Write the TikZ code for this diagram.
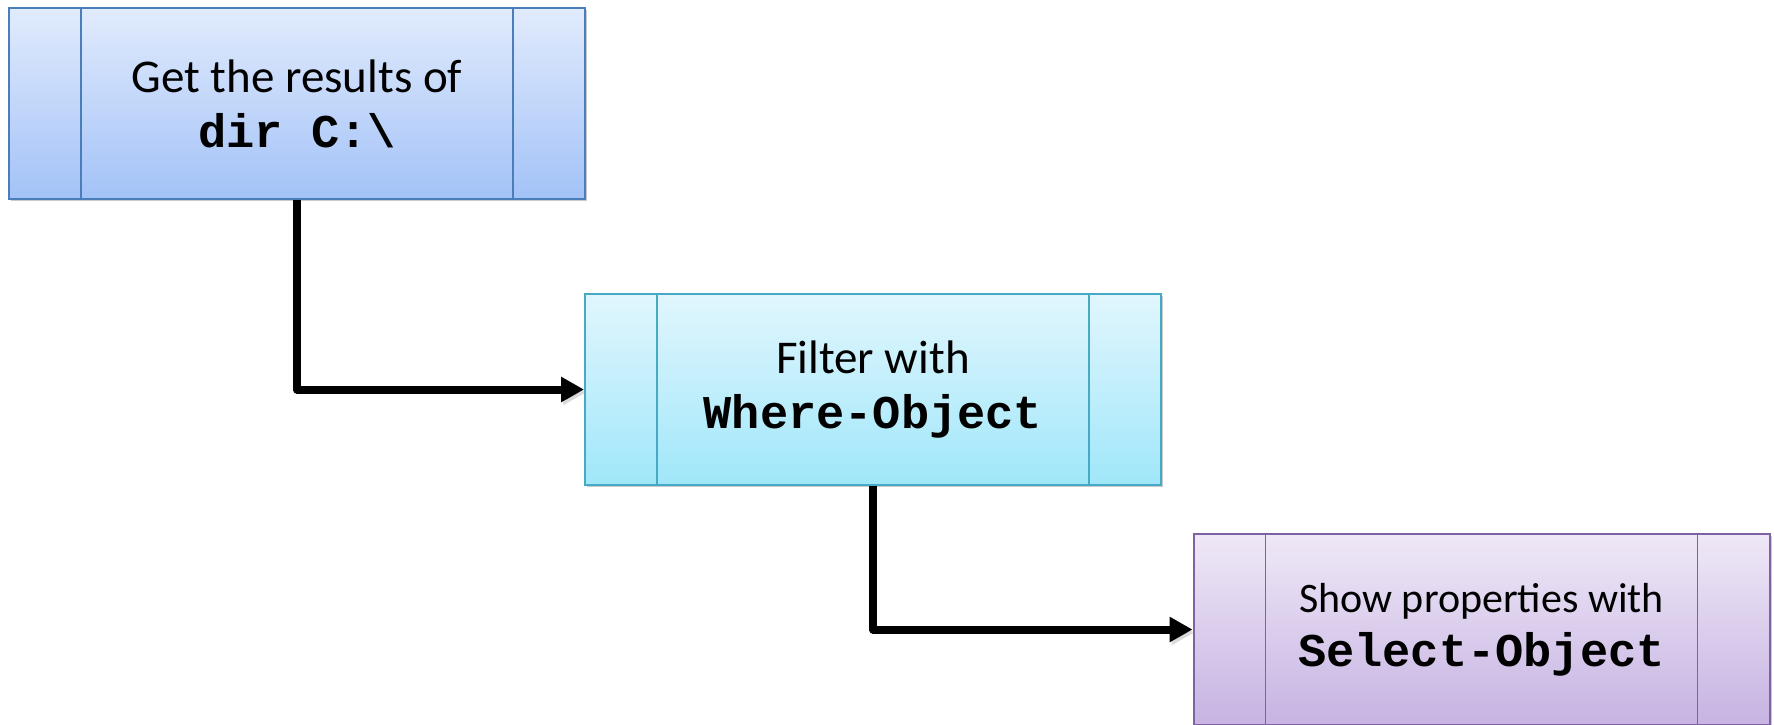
\documentclass[tikz,border=0pt]{standalone}
\usepackage{fontspec}
\setmainfont{Carlito}
\newfontfamily\codefont{Liberation Mono}
\usetikzlibrary{arrows.meta,shadows}
\definecolor{bAtop}{HTML}{E1EBFD}
\definecolor{bAbot}{HTML}{A3C2F7}
\definecolor{bAline}{HTML}{4A7EBB}
\definecolor{bBtop}{HTML}{E1F6FD}
\definecolor{bBbot}{HTML}{A0E7FA}
\definecolor{bBline}{HTML}{46AAC5}
\definecolor{bCtop}{HTML}{EFE8F7}
\definecolor{bCbot}{HTML}{C6B3E2}
\definecolor{bCline}{HTML}{7E62A1}
\tikzset{
  procbox/.style={rectangle, minimum width=288pt, minimum height=95.5pt,
    line width=1pt, align=center, inner sep=0pt,
    drop shadow={shadow xshift=1.2pt, shadow yshift=-1.2pt, opacity=0.35, fill=black!60},
    path picture={
      \draw[line width=0.8pt, draw=#1]
        ([xshift=36pt]path picture bounding box.north west) --
        ([xshift=36pt]path picture bounding box.south west);
      \draw[line width=0.8pt, draw=#1]
        ([xshift=-36pt]path picture bounding box.north east) --
        ([xshift=-36pt]path picture bounding box.south east);
    }},
  flowarrow/.style={line width=4pt, line join=round, line cap=butt,
    -{Triangle[length=11.5pt,width=12pt]},
    preaction={draw=black!35, opacity=0.4, transform canvas={xshift=1pt,yshift=-1.5pt}}},
  code/.style={font=\codefont\bfseries}
}
\begin{document}
\begin{tikzpicture}[x=0.5pt,y=-0.5pt]
\useasboundingbox (0,0) rectangle (1774,724);
\node[procbox=bAline, draw=bAline, top color=bAtop, bottom color=bAbot,
  font=\fontsize{23.5pt}{27.5pt}\selectfont] (get) at (297,103.5)
  {Get the results of\\{\codefont\bfseries dir C:\textbackslash}};
\node[procbox=bBline, draw=bBline, top color=bBtop, bottom color=bBbot,
  font=\fontsize{23.5pt}{27.5pt}\selectfont] (filter) at (873,389.5)
  {Filter with\\{\codefont\bfseries Where-Object}};
\node[procbox=bCline, draw=bCline, top color=bCtop, bottom color=bCbot,
  font=\fontsize{21pt}{27pt}\selectfont] (select) at (1481.5,629.5)
  {Show properties with\\{\fontsize{23.5pt}{27pt}\codefont\bfseries Select-Object}};
\draw[flowarrow] (get.south) |- (filter.west);
\draw[flowarrow] (filter.south) |- (select.west);
\end{tikzpicture}
\end{document}
